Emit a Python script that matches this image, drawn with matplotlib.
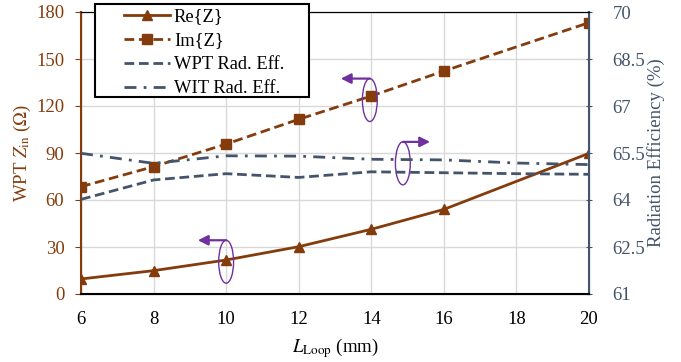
import matplotlib.pyplot as plt
from matplotlib.patches import Ellipse, Rectangle

plt.rcParams["font.family"] = ["Liberation Serif", "DejaVu Serif"]
plt.rcParams["mathtext.fontset"] = "stix"

BROWN = "#843C0C"
SLATE = "#44546A"
PURPLE = "#7030A0"

# data
loop_len = [6, 8, 10, 12, 14, 16, 20]
re_z = [9.6, 14.9, 21.7, 30.2, 41.3, 54.0, 89.8]
im_z = [68.5, 81.3, 95.7, 111.5, 126.4, 142.3, 173.2]

eff_len = [6, 8, 10, 12, 14, 16, 18, 20]
wpt_eff = [64.02, 64.64, 64.84, 64.72, 64.90, 64.87, 64.84, 64.82]
wit_eff = [65.49, 65.17, 65.41, 65.40, 65.30, 65.28, 65.18, 65.13]

left_ticks = [0, 30, 60, 90, 120, 150, 180]
right_ticks = [61, 62.5, 64, 65.5, 67, 68.5, 70]
right_labels = ["61", "62.5", "64", "65.5", "67", "68.5", "70"]
x_ticks = [6, 8, 10, 12, 14, 16, 18, 20]

W, H = 681, 362
fig = plt.figure(figsize=(W / 100, H / 100), dpi=100)
ax = fig.add_axes([81 / W, 68 / H, 508 / W, 282 / H])
ax2 = ax.twinx()

lw = 2.0
dashed = (0, (3.5, 1.7))
l1, = ax.plot(loop_len, re_z, "-", color=BROWN, lw=lw, marker="^", ms=7.5, zorder=4)
l2, = ax.plot(loop_len, im_z, color=BROWN, lw=lw, ls=dashed, marker="s", ms=6.5, zorder=4)
l3, = ax2.plot(eff_len, wpt_eff, color=SLATE, lw=lw, ls=dashed, zorder=3)
l4, = ax2.plot(eff_len, wit_eff, color=SLATE, lw=lw, ls=(0, (4.3, 2.6, 1.0, 2.6)), zorder=3)

ax.set_xlim(6, 20)
ax.set_ylim(0, 180)
ax2.set_ylim(61, 70)
ax.set_xticks(x_ticks)
ax.set_yticks(left_ticks)
ax2.set_yticks(right_ticks)
ax2.set_yticklabels(right_labels)

ax.grid(True, color="#d9d9d9", lw=1.0)
ax.set_axisbelow(True)

ax.tick_params(axis="x", length=0, labelsize=13.5, pad=12, colors="black")
ax.tick_params(axis="y", length=4, direction="out", labelsize=13.5, colors=BROWN, pad=8)
ax2.tick_params(axis="y", length=4, direction="inout", labelsize=13.5, colors=SLATE, pad=15)

for side in ["top", "bottom"]:
    ax2.spines[side].set_color("black")
ax2.spines["left"].set_color(BROWN)
ax2.spines["left"].set_linewidth(1.5)
ax2.spines["right"].set_color(SLATE)
ax2.spines["right"].set_linewidth(1.5)
ax2.spines["bottom"].set_linewidth(1.5)

ax.set_ylabel(r"WPT $Z_{\mathrm{in}}$ ($\Omega$)", color=BROWN, fontsize=13.5, labelpad=2)
ax2.set_ylabel("Radiation Efficiency (%)", color=SLATE, fontsize=13.5, labelpad=1.5)
ax.set_xlabel(r"$L_{\mathrm{Loop}}$ (mm)", fontsize=13.5, labelpad=6)

# legend box drawn separately so the padding can match the reference
fig.patches.append(Rectangle((95 / W, 1 - 97 / H), 214 / W, 93 / H, transform=fig.transFigure,
                             fc="white", ec="black", lw=1.5, zorder=4))
leg = fig.legend([l1, l2, l3, l4], ["Re{Z}", "Im{Z}", "WPT Rad. Eff.", "WIT Rad. Eff."],
                 loc="upper left", bbox_to_anchor=(124 / W, 1 - 8 / H), fontsize=13.3,
                 handlelength=2.5, labelspacing=0.38, borderpad=0, borderaxespad=0,
                 handletextpad=0.2, frameon=False)
leg.set_zorder(5)

# axis pointers: ellipse with arrow
ell_specs = [
    (10.0, 20.6, 9.22),
    (13.96, 123.8, 13.16),
    (14.87, 83.4, 15.62),
]
for cx, cy, tip in ell_specs:
    ax.add_patch(Ellipse((cx, cy), 0.41, 27.4, fill=False, ec=PURPLE, lw=1.0, zorder=6))
    top = cy + 13.7
    ax.annotate("", xy=(tip, top), xytext=(cx, top),
                arrowprops=dict(arrowstyle="-|>", color=PURPLE, lw=1.6,
                                mutation_scale=15, shrinkA=0, shrinkB=0),
                zorder=6)

fig.savefig("out.png", dpi=100)
